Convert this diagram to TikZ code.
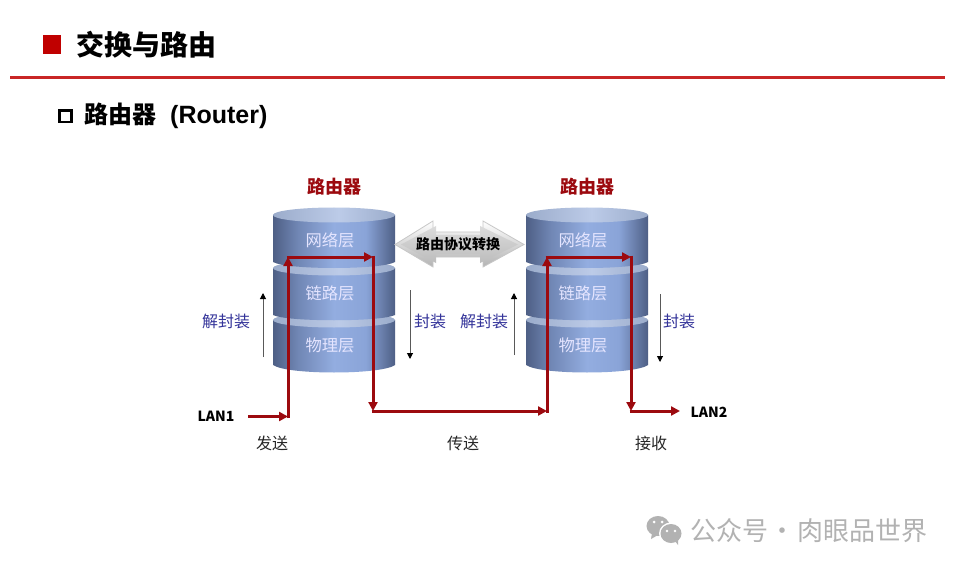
\documentclass[tikz,border=0pt]{standalone}
\usepackage{fontspec}
\setmainfont{Noto Sans CJK SC}
\newfontfamily\latinb{Liberation Sans}
\usetikzlibrary{arrows.meta,calc}
\definecolor{dk}{HTML}{4E5F85}
\definecolor{dk2}{HTML}{7086B4}
\definecolor{md}{HTML}{93ADE0}
\definecolor{md2}{HTML}{8AA4D8}
\definecolor{lite}{HTML}{BCCBE8}
\definecolor{lited}{HTML}{9BACCB}
\definecolor{rd}{HTML}{9C0A0F}
\definecolor{ttlred}{HTML}{C00000}
\definecolor{blu}{HTML}{34349A}
\pgfdeclarehorizontalshading{cylbody}{100bp}{color(0bp)=(dk); color(25bp)=(dk); color(35bp)=(dk2); color(50bp)=(md); color(63bp)=(md2); color(75bp)=(dk); color(100bp)=(dk)}
\pgfdeclarehorizontalshading{cyltop}{100bp}{color(0bp)=(lited); color(25bp)=(lited); color(52bp)=(lite); color(75bp)=(lited); color(100bp)=(lited)}
\tikzset{
  x=1pt,y=-1pt,
  layerlbl/.style={text=white!90!blue,font=\fontsize{16.3}{16}\selectfont,inner sep=0pt},
  enc/.style={text=blu,font=\fontsize{16}{16}\selectfont,inner sep=0pt},
  plain/.style={text=black!85,font=\fontsize{16}{16}\selectfont,inner sep=0pt},
  lan/.style={text=black,font=\fontsize{14}{14}\selectfont\bfseries,inner sep=0pt},
  routerlbl/.style={text=rd,font=\fontsize{18}{18}\selectfont\bfseries,inner sep=0pt},
  rdarrow/.style={draw=rd,line width=3pt,-{Triangle[length=9pt,width=9pt]}},
  thinarrow/.style={draw=black!65,line width=1pt,-{Triangle[length=6pt,width=6pt,color=black]}},
  wm/.style={text=black!30,font=\fontsize{26}{26}\selectfont,inner sep=0pt},
}
% #1 left x, #2 top-ellipse centre y, #3 bottom side y, #4 bottom arc control depth
\newcommand{\layer}[4]{%
  \path[shading=cylbody]
    (#1,#2) -- (#1,#3) .. controls (#1+14,#3+#4) and (#1+108,#3+#4) .. (#1+122,#3)
    -- (#1+122,#2) -- cycle;
  \path[shading=cyltop]
    (#1+61,#2) ellipse[x radius=61,y radius=7.5];
}
\newcommand{\stack}[2]{%
  \layer{#1}{#2+105}{#2+150}{10}
  \layer{#1}{#2+53}{#2+100}{7}
  \layer{#1}{#2}{#2+47}{8}
}
\begin{document}
\begin{tikzpicture}
\useasboundingbox (0,0) rectangle (960,569);
\fill[white] (0,0) rectangle (960,569);
% header
\fill[ttlred] (43,35) rectangle (61,54);
\node[anchor=west,inner sep=0pt,font=\fontsize{28}{28}\selectfont\bfseries] (title) at (76,45) {交换与路由};
\draw[draw=ttlred!85!white,line width=2.2pt] (10,77.5) -- (945,77.5);
\draw[black,line width=2.6pt] (59.3,110.3) rectangle (71.3,122);
\node[anchor=west,inner sep=0pt,font=\fontsize{24}{24}\selectfont\bfseries] (sub) at (84,115.5) {路由器\hspace{14pt}{\latinb\fontsize{25}{24}\selectfont (Router)}};
% stacks
\stack{273}{215}
\stack{526}{215}
\node[routerlbl] (r1) at (334,187) {路由器};
\node[routerlbl] (r2) at (587,187) {路由器};
\node[layerlbl] (a1) at (330,240) {网络层};
\node[layerlbl] (a2) at (330,293) {链路层};
\node[layerlbl] (a3) at (330,345) {物理层};
\node[layerlbl] (b1) at (583,240) {网络层};
\node[layerlbl] (b2) at (583,293) {链路层};
\node[layerlbl] (b3) at (583,345) {物理层};
% double arrow
\path[draw=black!22,line width=.8pt,top color=white,bottom color=black!30]
  (395,244.5) -- (433,221) -- (433,232) -- (483,232) -- (483,221) -- (524,244.5)
  -- (483,267) -- (483,257) -- (433,257) -- (433,267) -- cycle;
\path[top color=black!14,bottom color=black!26]
  (401,244.5) -- (436,226) -- (436,235) -- (480,235) -- (480,226) -- (518,244.5)
  -- (480,263) -- (480,254) -- (436,254) -- (436,263) -- cycle;
\node[inner sep=0pt,font=\fontsize{14}{14}\selectfont\bfseries] (conv) at (458,244) {路由协议转换};
% thin arrows
\coordinate (t1a) at (263,357); \coordinate (t1b) at (263,293);
\coordinate (t2a) at (410,290); \coordinate (t2b) at (410,359);
\coordinate (t3a) at (514,355); \coordinate (t3b) at (514,293);
\coordinate (t4a) at (660,294); \coordinate (t4b) at (660,362);
\draw[thinarrow] (t1a) -- (t1b);
\draw[thinarrow] (t2a) -- (t2b);
\draw[thinarrow] (t3a) -- (t3b);
\draw[thinarrow] (t4a) -- (t4b);
\node[enc] (e1) at (226,321) {解封装};
\node[enc] (e2) at (430,321) {封装};
\node[enc] (e3) at (484,321) {解封装};
\node[enc] (e4) at (679,321) {封装};
% LAN and red path
\node[lan] (lan1) at (216,416) {LAN1};
\node[lan] (lan2) at (709,412) {LAN2};
\coordinate (p0) at (248,416.5);
\coordinate (p1) at (288,416.5);
\coordinate (p2) at (288,257);
\coordinate (p3) at (373,257);
\coordinate (p4) at (373,411);
\coordinate (p5) at (547,411);
\coordinate (p6) at (547,257);
\coordinate (p7) at (631,257);
\coordinate (p8) at (631,411);
\coordinate (p9) at (680,411);
\draw[rdarrow] (p0) -- (p1);
\draw[rdarrow] ($(p1)+(0,1.5)$) -- (p2);
\draw[rdarrow] ($(p2)+(-1.5,0)$) -- (p3);
\draw[rdarrow] ($(p3)+(0,-1.5)$) -- (p4);
\draw[rdarrow] ($(p4)+(-1.5,0)$) -- (p5);
\draw[rdarrow] ($(p5)+(0,1.5)$) -- (p6);
\draw[rdarrow] ($(p6)+(-1.5,0)$) -- (p7);
\draw[rdarrow] ($(p7)+(0,-1.5)$) -- (p8);
\draw[rdarrow] ($(p8)+(-1.5,0)$) -- (p9);
\node[plain] (s1) at (272,443) {发送};
\node[plain] (s2) at (463,443) {传送};
\node[plain] (s3) at (651,443) {接收};
% watermark
\fill[black!30] (658,526) ellipse[x radius=11.5,y radius=10];
\fill[black!30] (652,533) -- (651,539) -- (658,535) -- cycle;
\fill[white] (654,522) circle[radius=1.5]; \fill[white] (662,522) circle[radius=1.5];
\fill[white] (671,533.5) ellipse[x radius=12,y radius=11];
\fill[black!30] (671,533.5) ellipse[x radius=10.5,y radius=9.5];
\fill[black!30] (675,541) -- (678,545) -- (678,539) -- cycle;
\fill[white] (667,531) circle[radius=1.3]; \fill[white] (675,531) circle[radius=1.3];
\node[wm,anchor=west] (wmark) at (690,531) {公众号\hspace{1.5pt}·\hspace{1.5pt}肉眼品世界};
\end{tikzpicture}
\end{document}
